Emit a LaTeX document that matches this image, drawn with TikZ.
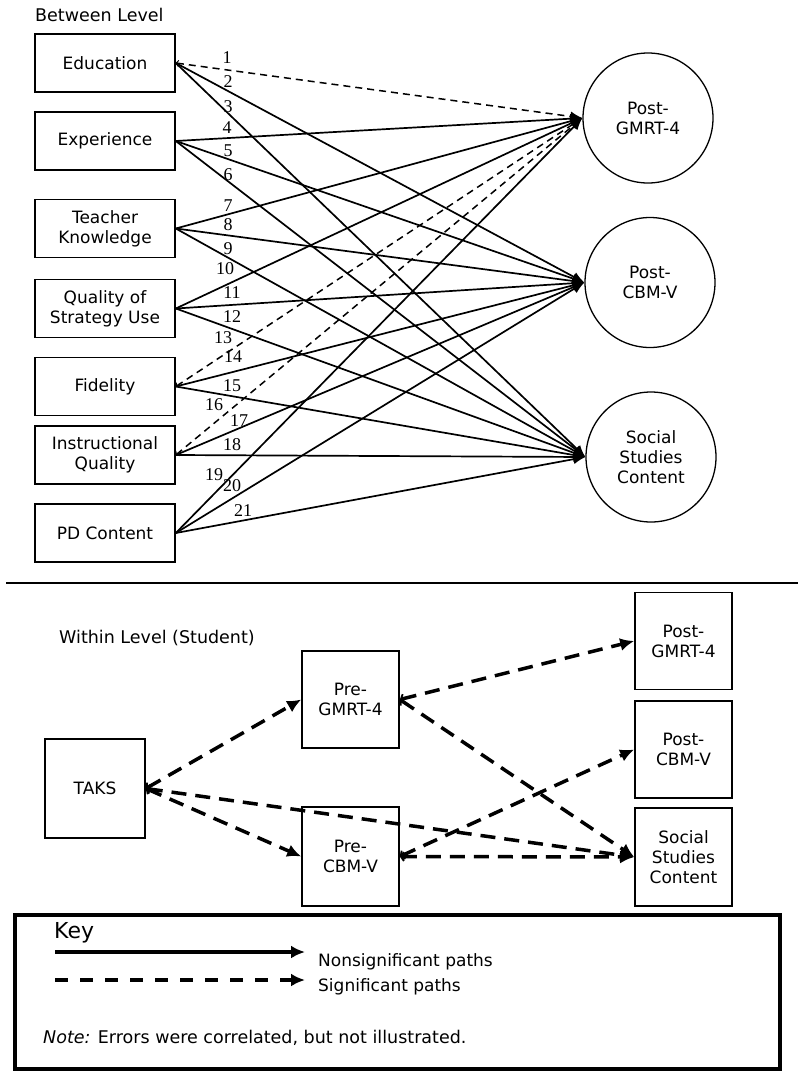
\documentclass[tikz,border=0pt]{standalone}
\usepackage{fontspec}
\setmainfont{DejaVu Sans}
\newfontfamily\numfont{Liberation Serif}
\usetikzlibrary{arrows.meta}
\begin{document}
\begin{tikzpicture}[x=1pt,y=-1pt,
  txt/.style={font=\fontsize{17}{20}\selectfont},
  lbox/.style={txt,draw,line width=1.6pt,minimum width=140pt,minimum height=58pt,align=center,inner sep=0pt},
  circ/.style={txt,draw,circle,line width=1.3pt,minimum size=130pt,align=center,inner sep=0pt},
  sq/.style={txt,draw,line width=1.6pt,minimum width=97pt,minimum height=97pt,align=center,inner sep=0pt},
  ns/.style={line width=1.7pt,-{Latex[length=12pt,width=10pt]}},
  sg/.style={line width=1.5pt,dash pattern=on 7pt off 5pt,{Straight Barb[length=2pt,width=6pt,line width=1pt]}-{Latex[length=12pt,width=10pt]}},
  bsg/.style={line width=3.5pt,dash pattern=on 15pt off 9pt,{Straight Barb[length=3pt,width=9pt,line width=1.8pt]}-{Latex[length=14pt,width=13pt]}},
  num/.style={font=\numfont\fontsize{18}{18}\selectfont,inner sep=0pt},
]
\useasboundingbox (0,0) rectangle (798,1071);
\fill[white] (0,0) rectangle (798,1071);

% ---------- Between level ----------
\node[txt,font=\fontsize{17.5}{20}\selectfont,anchor=west,inner sep=0pt] (hdrA) at (35,15) {Between Level};

\node[lbox] (edu) at (105,63) {Education};
\node[lbox] (exp) at (105,141) {Experience};
\node[lbox] (tk)  at (105,228.5) {Teacher\\Knowledge};
\node[lbox] (qsu) at (105,308.5) {Quality of\\Strategy Use};
\node[lbox] (fid) at (105,386.5) {Fidelity};
\node[lbox] (iq)  at (105,455) {Instructional\\Quality};
\node[lbox] (pd)  at (105,533) {PD Content};

\node[circ] (gm) at (648,118) {Post-\\GMRT-4};
\node[circ] (cb) at (650,282.5) {Post-\\CBM-V};
\node[circ] (ss) at (651,457) {Social\\Studies\\Content};

\draw[sg] (edu.east) -- (gm.west);
\draw[ns] (edu.east) -- (cb.west);
\draw[ns] (edu.east) -- (ss.west);
\draw[ns] (exp.east) -- (gm.west);
\draw[ns] (exp.east) -- (cb.west);
\draw[ns] (exp.east) -- (ss.west);
\draw[ns] (tk.east) -- (gm.west);
\draw[ns] (tk.east) -- (cb.west);
\draw[ns] (tk.east) -- (ss.west);
\draw[ns] (qsu.east) -- (gm.west);
\draw[ns] (qsu.east) -- (cb.west);
\draw[ns] (qsu.east) -- (ss.west);
\draw[sg] (fid.east) -- (gm.west);
\draw[ns] (fid.east) -- (cb.west);
\draw[ns] (fid.east) -- (ss.west);
\draw[sg] (iq.east) -- (gm.west);
\draw[ns] (iq.east) -- (cb.west);
\draw[ns] (iq.east) -- (ss.west);
\draw[ns] (pd.east) -- (gm.west);
\draw[ns] (pd.east) -- (cb.west);
\draw[ns] (pd.east) -- (ss.west);

\node[num] (l1) at (227,58) {1};
\node[num] (l2) at (228,82) {2};
\node[num] (l3) at (228,107) {3};
\node[num] (l4) at (227,128) {4};
\node[num] (l5) at (228,151) {5};
\node[num] (l6) at (228,175) {6};
\node[num] (l7) at (228,206) {7};
\node[num] (l8) at (228,225) {8};
\node[num] (l9) at (228,249) {9};
\node[num] (l10) at (225,269) {10};
\node[num] (l11) at (232,293) {11};
\node[num] (l12) at (232,317) {12};
\node[num] (l13) at (223,338) {13};
\node[num] (l14) at (233,357) {14};
\node[num] (l15) at (232,386) {15};
\node[num] (l16) at (214,405) {16};
\node[num] (l17) at (239,421) {17};
\node[num] (l18) at (232,445) {18};
\node[num] (l19) at (214,475) {19};
\node[num] (l20) at (232,486) {20};
\node[num] (l21) at (243,511) {21};

% ---------- separator ----------
\coordinate (sepL) at (6,583);
\coordinate (sepR) at (798,583);
\draw[line width=1.5pt] (sepL) -- (sepR);

% ---------- Within level ----------
\node[txt,font=\fontsize{17.5}{20}\selectfont,anchor=west,inner sep=0pt] (hdrB) at (59,638) {Within Level (Student)};

\node[sq,minimum width=100pt,minimum height=99pt] (taks) at (95,788.5) {TAKS};
\node[sq] (preg) at (350.5,699.5) {Pre-\\GMRT-4};
\node[sq,minimum height=99pt] (prec) at (350.5,856.5) {Pre-\\CBM-V};
\node[sq] (pog) at (683.5,641) {Post-\\GMRT-4};
\node[sq] (poc) at (683.5,749.5) {Post-\\CBM-V};
\node[sq,minimum height=98pt] (pss) at (683.5,857) {Social\\Studies\\Content};

\draw[bsg] (taks.east) -- (preg.west);
\draw[bsg] (taks.east) -- (prec.west);
\draw[bsg] (taks.east) -- (pss.west);
\draw[bsg] (preg.east) -- (pog.west);
\draw[bsg] (preg.east) -- (pss.west);
\draw[bsg] (prec.east) -- (poc.west);
\draw[bsg] (prec.east) -- (pss.west);

% ---------- Key ----------
\node[draw,line width=3.5pt,minimum width=765pt,minimum height=154pt,inner sep=0pt] (keybox) at (397.5,992) {};
\node[font=\fontsize{22}{26}\selectfont,anchor=west,inner sep=0pt] (key) at (54,933) {Key};
\coordinate (ks1) at (55,952);
\coordinate (ke1) at (305,952);
\coordinate (ks2) at (55,980);
\coordinate (ke2) at (305,980);
\draw[line width=3.5pt,-{Latex[length=14pt,width=13pt]}] (ks1) -- (ke1);
\draw[line width=3.5pt,dash pattern=on 13pt off 12pt,-{Latex[length=14pt,width=13pt]}] (ks2) -- (ke2);
\node[txt,anchor=west,inner sep=0pt] (kt1) at (318,962) {Nonsignificant paths};
\node[txt,anchor=west,inner sep=0pt] (kt2) at (318,987) {Significant paths};
\node[txt,font=\fontsize{17.5}{20}\selectfont,anchor=west,inner sep=0pt] (note) at (43,1038) {\textit{Note:} Errors were correlated, but not illustrated.};
\end{tikzpicture}
\end{document}
